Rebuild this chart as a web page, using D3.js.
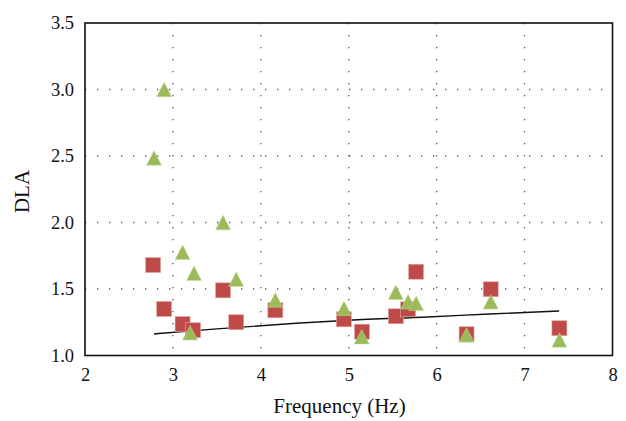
<!DOCTYPE html>
<html>
<head>
<meta charset="utf-8">
<script src="https://cdn.jsdelivr.net/npm/d3@7"></script>
<style>
  html, body { margin: 0; padding: 0; background: #fff; }
  svg { display: block; }
  svg text { font-family: "Liberation Serif", "Times New Roman", serif !important; fill: #111; }
</style>
</head>
<body>
<svg id="chart" width="626" height="421"></svg>
<script>
// Measured DLA values (red squares)
const squareFreq = [2.775, 2.90, 3.11, 3.23, 3.57, 3.72, 4.165, 4.945, 5.15, 5.535, 5.675, 5.766, 6.34, 6.615, 7.396];
const squareDLA  = [1.68, 1.35, 1.237, 1.19, 1.49, 1.25, 1.34, 1.272, 1.179, 1.295, 1.347, 1.63, 1.16, 1.498, 1.205];

// Second DLA series (green triangles)
const triFreq = [2.785, 2.90, 3.11, 3.195, 3.24, 3.57, 3.72, 4.165, 4.946, 5.148, 5.535, 5.675, 5.766, 6.34, 6.615, 7.396];
const triDLA  = [2.485, 3.0, 1.776, 1.171, 1.618, 2.0, 1.573, 1.417, 1.354, 1.141, 1.475, 1.404, 1.392, 1.155, 1.404, 1.117];

// Trend curve
const trendFreq = [2.785, 3.5, 4.4, 5.0, 5.9, 6.6, 7.393];
const trendDLA  = [1.162, 1.20, 1.242, 1.265, 1.290, 1.312, 1.335];

// Axis ticks
const xTicks = [2, 3, 4, 5, 6, 7, 8];
const yTicks = [1.0, 1.5, 2.0, 2.5, 3.0, 3.5];

const svg = d3.select("#chart");
const plotLeft = 85, plotRight = 612.5, plotTop = 23, plotBottom = 355.5;
const serif = '"Liberation Serif", "Times New Roman", serif';

const x = d3.scaleLinear().domain([2, 8]).range([plotLeft, plotRight]);
const y = d3.scaleLinear().domain([1.0, 3.5]).range([plotBottom, plotTop]);

// Dotted grid
const grid = svg.append("g")
  .attr("stroke", "#555")
  .attr("stroke-width", 1.3)
  .attr("stroke-dasharray", "1.3,10.7");
grid.selectAll("line.v").data(xTicks.slice(1, -1)).join("line")
  .attr("class", "v")
  .attr("x1", d => x(d)).attr("x2", d => x(d))
  .attr("y1", plotTop).attr("y2", plotBottom);
grid.selectAll("line.h").data(yTicks.slice(1, -1)).join("line")
  .attr("class", "h")
  .attr("x1", plotLeft).attr("x2", plotRight)
  .attr("y1", d => y(d)).attr("y2", d => y(d));

// Axes (labels only, no tick marks)
const xAxis = d3.axisBottom(x).tickValues(xTicks).tickSize(0).tickPadding(12).tickFormat(d3.format("d"));
const yAxis = d3.axisLeft(y).tickValues(yTicks).tickSize(0).tickPadding(11).tickFormat(d3.format(".1f"));

const gx = svg.append("g").attr("transform", `translate(0,${plotBottom})`).call(xAxis);
const gy = svg.append("g").attr("transform", `translate(${plotLeft},0)`).call(yAxis);
[gx, gy].forEach(g => {
  g.attr("font-family", null).attr("font-size", null);
  g.select(".domain").remove();
  g.selectAll("text")
    .style("font-family", serif)
    .style("font-size", "18.5px")
    .attr("fill", "#111");
});

// Trend curve
const line = d3.line().x((d, i) => x(trendFreq[i])).y(d => y(d)).curve(d3.curveMonotoneX);
svg.append("path")
  .attr("d", line(trendDLA))
  .attr("fill", "none")
  .attr("stroke", "#111")
  .attr("stroke-width", 1.4);

// Red squares
const sq = 15;
svg.append("g").selectAll("rect").data(squareDLA).join("rect")
  .attr("x", (d, i) => x(squareFreq[i]) - sq / 2)
  .attr("y", d => y(d) - sq / 2)
  .attr("width", sq).attr("height", sq)
  .attr("fill", "#be4b48")
  .attr("stroke", "#e3a9a7")
  .attr("stroke-width", 0.6);

// Green triangles
const tw = 15, th = 14.5;
svg.append("g").selectAll("path").data(triDLA).join("path")
  .attr("d", (d, i) => {
    const cx = x(triFreq[i]), cy = y(d);
    return `M${cx},${cy - th / 2}L${cx + tw / 2},${cy + th / 2}L${cx - tw / 2},${cy + th / 2}Z`;
  })
  .attr("fill", "#9bbb59")
  .attr("stroke", "#c5d9a0")
  .attr("stroke-width", 0.5);

// Frame
svg.append("rect")
  .attr("x", plotLeft).attr("y", plotTop)
  .attr("width", plotRight - plotLeft).attr("height", plotBottom - plotTop)
  .attr("fill", "none")
  .attr("stroke", "#111")
  .attr("stroke-width", 1.6);

// Axis titles
svg.append("text")
  .attr("x", 339.5).attr("y", 413)
  .attr("text-anchor", "middle")
  .style("font-family", serif)
  .style("font-size", "21px")
  .text("Frequency (Hz)");
svg.append("text")
  .attr("transform", "translate(29,191.5) rotate(-90)")
  .attr("text-anchor", "middle")
  .style("font-family", serif)
  .style("font-size", "21px")
  .text("DLA");
</script>
</body>
</html>
